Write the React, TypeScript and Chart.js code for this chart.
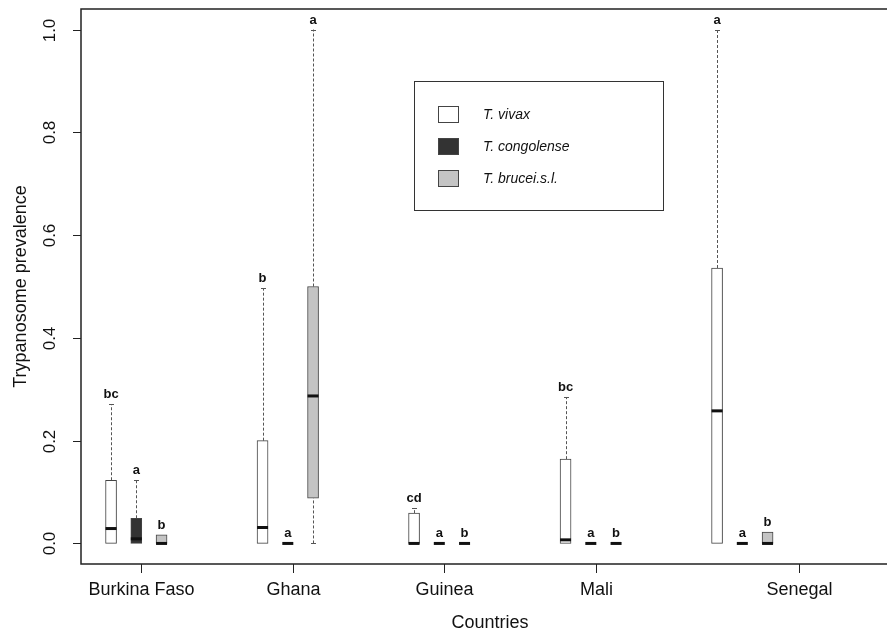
import { useEffect, useRef } from 'react';
import { Chart, registerables } from 'chart.js';

Chart.register(...registerables);

// ---- data ----
const countries = ['Burkina Faso', 'Ghana', 'Guinea', 'Mali', 'Senegal'];
const speciesNames = ['T. vivax', 'T. congolense', 'T. brucei.s.l.'];

// five-number summaries per country: [min, q1, median, q3, max]
const vivaxStats = [
  [0, 0, 0.029, 0.123, 0.271],
  [0, 0, 0.031, 0.2, 0.497],
  [0, 0, 0, 0.059, 0.069],
  [0, 0, 0.007, 0.164, 0.285],
  [0, 0, 0.258, 0.536, 1.0],
];
const congolenseStats = [
  [0, 0, 0.009, 0.049, 0.123],
  [0, 0, 0, 0, 0],
  [0, 0, 0, 0, 0],
  [0, 0, 0, 0, 0],
  [0, 0, 0, 0, 0],
];
const bruceiStats = [
  [0, 0, 0, 0.017, 0.017],
  [0, 0.088, 0.287, 0.5, 1.0],
  [0, 0, 0, 0, 0],
  [0, 0, 0, 0, 0],
  [0, 0, 0, 0.022, 0.022],
];

const vivaxLetters = ['bc', 'b', 'cd', 'bc', 'a'];
const congolenseLetters = ['a', 'a', 'a', 'a', 'a'];
const bruceiLetters = ['b', 'a', 'b', 'b', 'b'];

const yTickValues = [0, 0.2, 0.4, 0.6, 0.8, 1.0];
const yTickLabels = ['0.0', '0.2', '0.4', '0.6', '0.8', '1.0'];
const countryTickPos = [2.2, 8.2, 14.2, 20.2, 28.25];

const seriesStats = [vivaxStats, congolenseStats, bruceiStats];
const seriesLetters = [vivaxLetters, congolenseLetters, bruceiLetters];
const seriesFill = ['#ffffff', '#333333', '#c4c4c4'];

const FONT = '"Liberation Sans", Arial, Helvetica, sans-serif';
const W = 887;
const H = 635;
const BOX_W = 11;

const boxPos = (g: number, s: number) => 1 + 6 * g + s;

const boxPlugin = {
  id: 'boxplotExtras',
  beforeDatasetsDraw(chart: any) {
    const { ctx, scales } = chart;
    const x = scales.x;
    const y = scales.y;
    ctx.save();
    // whiskers
    ctx.strokeStyle = '#555';
    ctx.lineWidth = 1;
    seriesStats.forEach((stats, s) => {
      stats.forEach((st, g) => {
        const px = Math.round(x.getPixelForValue(boxPos(g, s))) + 0.5;
        const [mn, q1, , q3, mx] = st;
        const segs: [number, number][] = [];
        if (mx > q3) segs.push([q3, mx]);
        if (mn < q1) segs.push([mn, q1]);
        segs.forEach(([a, b]) => {
          ctx.setLineDash([3, 2]);
          ctx.beginPath();
          ctx.moveTo(px, y.getPixelForValue(a));
          ctx.lineTo(px, y.getPixelForValue(b));
          ctx.stroke();
        });
        ctx.setLineDash([]);
        const staples: number[] = [];
        if (mx > q3) staples.push(mx);
        if (mn < q1) staples.push(mn);
        staples.forEach((v) => {
          const py = Math.round(y.getPixelForValue(v)) + 0.5;
          ctx.beginPath();
          ctx.moveTo(px - 2.5, py);
          ctx.lineTo(px + 2.5, py);
          ctx.stroke();
        });
      });
    });
    ctx.restore();
  },
  afterDatasetsDraw(chart: any) {
    const { ctx, scales, chartArea } = chart;
    const x = scales.x;
    const y = scales.y;
    ctx.save();
    // medians and letters
    seriesStats.forEach((stats, s) => {
      stats.forEach((st, g) => {
        const px = x.getPixelForValue(boxPos(g, s));
        const med = st[2];
        const py = y.getPixelForValue(med);
        ctx.strokeStyle = '#111';
        ctx.lineWidth = 3;
        ctx.beginPath();
        ctx.moveTo(px - BOX_W / 2, py);
        ctx.lineTo(px + BOX_W / 2, py);
        ctx.stroke();
        const top = Math.max(st[4], st[3]);
        ctx.fillStyle = '#111';
        ctx.font = 'bold 13px ' + FONT;
        ctx.textAlign = 'center';
        ctx.textBaseline = 'alphabetic';
        ctx.fillText(seriesLetters[s][g], px, y.getPixelForValue(top) - 6);
      });
    });

    // frame
    const L = chartArea.left;
    const T = chartArea.top;
    const B = chartArea.bottom;
    const R = W + 20;
    ctx.strokeStyle = '#222';
    ctx.lineWidth = 1.5;
    ctx.beginPath();
    ctx.moveTo(R, T);
    ctx.lineTo(L, T);
    ctx.lineTo(L, B);
    ctx.lineTo(R, B);
    ctx.stroke();

    // y ticks
    ctx.lineWidth = 1;
    ctx.strokeStyle = '#222';
    ctx.fillStyle = '#111';
    ctx.font = '17px ' + FONT;
    yTickValues.forEach((v, i) => {
      const py = Math.round(y.getPixelForValue(v)) + 0.5;
      ctx.beginPath();
      ctx.moveTo(L - 8, py);
      ctx.lineTo(L, py);
      ctx.stroke();
      ctx.save();
      ctx.translate(55, py);
      ctx.rotate(-Math.PI / 2);
      ctx.textAlign = 'center';
      ctx.textBaseline = 'alphabetic';
      ctx.fillText(yTickLabels[i], 0, 0);
      ctx.restore();
    });

    // x ticks
    ctx.font = '18px ' + FONT;
    countryTickPos.forEach((v, i) => {
      const px = Math.round(x.getPixelForValue(v)) + 0.5;
      ctx.beginPath();
      ctx.moveTo(px, B);
      ctx.lineTo(px, B + 9);
      ctx.stroke();
      ctx.textAlign = 'center';
      ctx.textBaseline = 'alphabetic';
      ctx.fillText(countries[i], px, 595);
    });

    // axis titles
    ctx.fillText('Countries', 490, 628);
    ctx.save();
    ctx.translate(26, (T + B) / 2);
    ctx.rotate(-Math.PI / 2);
    ctx.textAlign = 'center';
    ctx.fillText('Trypanosome prevalence', 0, 0);
    ctx.restore();

    // legend
    ctx.lineWidth = 1;
    ctx.strokeStyle = '#333';
    ctx.strokeRect(414.5, 81.5, 249, 129);
    const rowY = [114, 146, 178];
    speciesNames.forEach((name, i) => {
      ctx.fillStyle = seriesFill[i];
      ctx.fillRect(438, rowY[i] - 8, 21, 17);
      ctx.strokeStyle = '#444';
      ctx.strokeRect(438.5, rowY[i] - 7.5, 20, 16);
      ctx.fillStyle = '#111';
      ctx.font = 'italic 14px ' + FONT;
      ctx.textAlign = 'left';
      ctx.textBaseline = 'middle';
      ctx.fillText(name, 483, rowY[i] + 1);
    });
    ctx.restore();
  },
};

export default function App() {
  const ref = useRef<HTMLCanvasElement | null>(null);
  useEffect(() => {
    if (!ref.current) return;
    const chart = new Chart(ref.current, {
      type: 'bar',
      data: {
        datasets: seriesStats.map((stats, s) => ({
          label: speciesNames[s],
          data: stats.map((st, g) => ({ x: boxPos(g, s), y: [st[1], st[3]] })),
          backgroundColor: seriesFill[s],
          borderColor: '#444',
          borderWidth: 1,
          borderSkipped: false,
          barThickness: BOX_W,
          grouped: false,
        })) as any,
      },
      options: {
        animation: false,
        responsive: false,
        maintainAspectRatio: false,
        devicePixelRatio: 1,
        layout: { padding: { left: 81, top: 9, right: 0, bottom: 71 } },
        scales: {
          x: { type: 'linear', min: -0.19, max: 31.73, offset: false, display: false },
          y: { type: 'linear', min: -0.04, max: 1.04, display: false },
        },
        plugins: {
          legend: { display: false },
          tooltip: { enabled: false },
        },
      },
      plugins: [boxPlugin],
    });
    return () => chart.destroy();
  }, []);
  return (
    <div style={{ position: 'absolute', left: 0, top: 0, width: W, height: H, background: '#fff' }}>
      <canvas ref={ref} width={W} height={H} style={{ display: 'block' }} />
    </div>
  );
}
